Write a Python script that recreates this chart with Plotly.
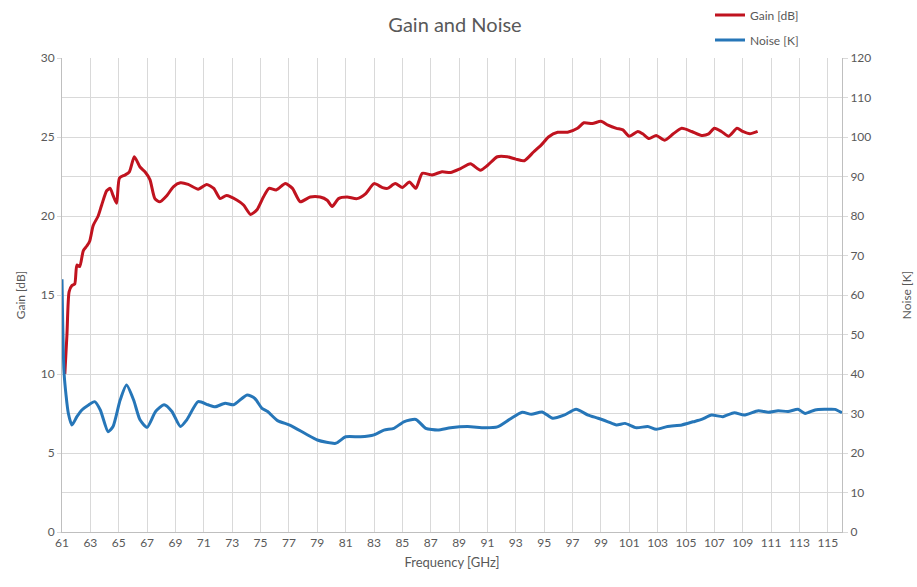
import plotly.graph_objects as go

# Gain measurement [dB] vs frequency [GHz]
gain_freq = [61.2, 61.35, 61.5, 61.7, 61.9, 62.05, 62.25, 62.5, 62.75, 62.95,
             63.2, 63.55, 63.8, 64.15, 64.4, 64.6, 64.85, 65.05, 65.45, 65.75,
             66.1, 66.5, 66.85, 67.2, 67.55, 67.9, 68.4, 68.85, 69.35, 69.9,
             70.6, 71.2, 71.7, 72.15, 72.6, 73.35, 73.8, 74.3, 74.75, 75.2,
             75.6, 76.1, 76.75, 77.25, 77.8, 78.5, 79.2, 79.7, 80.05, 80.5,
             81.1, 81.8, 82.4, 83.0, 83.6, 83.95, 84.5, 85.0, 85.5, 85.95,
             86.4, 87.1, 87.8, 88.4, 89.1, 89.8, 90.5, 91.0, 91.7, 92.4,
             93.0, 93.6, 94.25, 94.8, 95.3, 95.95, 96.65, 97.35, 97.8, 98.4,
             99.0, 99.5, 100.1, 100.55, 101.0, 101.6, 101.95, 102.4, 102.9, 103.5,
             104.1, 104.7, 105.4, 106.1, 106.6, 107.0, 107.5, 108.0, 108.6, 109.0,
             109.5, 110.05]
gain_db = [10.0, 12.5, 15.2, 15.6, 15.7, 16.9, 16.8, 17.8, 18.1, 18.4,
           19.4, 20.0, 20.7, 21.6, 21.75, 21.3, 20.8, 22.4, 22.6, 22.8,
           23.75, 23.1, 22.8, 22.3, 21.1, 20.9, 21.3, 21.85, 22.1, 22.0,
           21.7, 22.0, 21.75, 21.1, 21.3, 21.0, 20.7, 20.1, 20.4, 21.2,
           21.75, 21.65, 22.05, 21.75, 20.9, 21.2, 21.2, 21.0, 20.6, 21.1,
           21.2, 21.1, 21.4, 22.05, 21.8, 21.75, 22.05, 21.8, 22.15, 21.75,
           22.7, 22.6, 22.8, 22.75, 23.0, 23.3, 22.9, 23.2, 23.75, 23.75,
           23.6, 23.5, 24.05, 24.5, 25.0, 25.3, 25.3, 25.55, 25.9, 25.85,
           26.0, 25.75, 25.55, 25.45, 25.05, 25.35, 25.2, 24.9, 25.1, 24.8,
           25.2, 25.55, 25.35, 25.1, 25.2, 25.55, 25.35, 25.05, 25.55, 25.35,
           25.2, 25.35]

# Noise temperature [K] vs frequency [GHz]
noise_freq = [61.0, 61.15, 61.45, 61.7, 62.05, 62.4, 62.85, 63.3, 63.7, 64.25,
              64.6, 65.1, 65.55, 66.05, 66.5, 67.0, 67.6, 68.2, 68.75, 69.35,
              69.8, 70.6, 71.3, 71.8, 72.5, 73.1, 74.05, 74.6, 75.1, 75.5,
              76.2, 77.1, 78.2, 79.0, 80.3, 81.0, 82.05, 83.0, 83.7, 84.4,
              85.1, 85.95, 86.65, 87.5, 88.4, 89.6, 90.8, 91.7, 92.6, 93.45,
              94.1, 94.85, 95.6, 96.4, 97.25, 98.1, 98.8, 99.5, 100.1, 100.7,
              101.5, 102.3, 102.9, 103.7, 104.7, 105.5, 106.1, 106.8, 107.6, 108.4,
              109.1, 110.1, 110.8, 111.5, 112.2, 112.9, 113.4, 114.1, 114.8, 115.5,
              116.0]
noise_k = [64.0, 40.0, 30.0, 27.1, 29.2, 30.9, 32.1, 33.0, 30.9, 25.4,
           26.7, 33.4, 37.2, 33.4, 28.4, 26.5, 30.5, 32.2, 30.5, 26.7,
           28.4, 33.0, 32.2, 31.7, 32.6, 32.2, 34.7, 33.8, 31.3, 30.5,
           28.2, 27.0, 24.8, 23.3, 22.45, 24.1, 24.1, 24.6, 25.8, 26.25,
           27.9, 28.5, 26.25, 25.8, 26.4, 26.7, 26.4, 26.6, 28.6, 30.3,
           29.8, 30.4, 28.8, 29.6, 31.05, 29.6, 28.8, 27.9, 27.1, 27.5,
           26.4, 26.7, 26.0, 26.7, 27.1, 27.9, 28.5, 29.6, 29.2, 30.2,
           29.6, 30.7, 30.3, 30.7, 30.5, 31.05, 30.0, 30.9, 31.05, 31.05,
           30.2]

GAIN_COLOR = "#C0131F"
NOISE_COLOR = "#2676B8"
TEXT_COLOR = "#595959"
GRID_COLOR = "#D9D9D9"
FONT = "Lato"

fig = go.Figure()
fig.add_trace(go.Scatter(
    x=gain_freq, y=gain_db, name="Gain [dB]", mode="lines",
    line=dict(color=GAIN_COLOR, width=3, shape="spline", smoothing=0.6),
    yaxis="y", legend="legend",
))
fig.add_trace(go.Scatter(
    x=noise_freq, y=noise_k, name="Noise [K]", mode="lines",
    line=dict(color=NOISE_COLOR, width=3, shape="spline", smoothing=0.6),
    yaxis="y2", legend="legend2",
))

axis_font = dict(family=FONT, size=12, color=TEXT_COLOR)
legend_style = dict(
    font=dict(family=FONT, size=12, color=TEXT_COLOR),
    bgcolor="rgba(0,0,0,0)", xanchor="left", yanchor="middle",
    itemwidth=30, tracegroupgap=0,
)

fig.update_layout(
    width=917, height=587,
    margin=dict(l=62, r=75, t=58, b=55, autoexpand=False),
    paper_bgcolor="white", plot_bgcolor="white",
    title=dict(text="Gain and Noise", x=(455 - 0) / 917, xref="container", xanchor="center",
               y=1 - 25 / 587, yanchor="middle",
               font=dict(family=FONT, size=20, color=TEXT_COLOR)),
    xaxis=dict(
        range=[61, 116], tick0=61, dtick=2,
        showgrid=True, gridcolor=GRID_COLOR, gridwidth=1,
        showline=True, linecolor="#BFBFBF", linewidth=1,
        ticks="", tickfont=axis_font, zeroline=False,
        title=dict(text="Frequency [GHz]", font=dict(family=FONT, size=13, color=TEXT_COLOR),
                   standoff=8),
    ),
    yaxis=dict(
        range=[0, 30], tick0=0, dtick=5,
        showgrid=True, gridcolor=GRID_COLOR, gridwidth=1,
        minor=dict(dtick=2.5, showgrid=True, gridcolor=GRID_COLOR, gridwidth=1),
        showline=True, linecolor="#BFBFBF", linewidth=1,
        ticks="outside", ticklen=4, tickcolor="#D9D9D9",
        tickfont=axis_font, zeroline=False,
        title=dict(text="Gain [dB]", font=dict(family=FONT, size=12, color=TEXT_COLOR),
                   standoff=12),
    ),
    yaxis2=dict(
        range=[0, 120], tick0=0, dtick=10, overlaying="y", side="right",
        showgrid=False, showline=True, linecolor="#BFBFBF", linewidth=1,
        ticks="outside", ticklen=5, tickcolor="#D9D9D9",
        tickfont=axis_font, zeroline=False,
        title=dict(text="Noise [K]", font=dict(family=FONT, size=12, color=TEXT_COLOR),
                   standoff=32),
    ),
    legend=dict(x=(710 - 62) / 780, y=1 + (58 - 15) / 474, **legend_style),
    legend2=dict(x=(710 - 62) / 780, y=1 + (58 - 40) / 474, **legend_style),
    showlegend=True,
)

fig.write_html("out.html")
